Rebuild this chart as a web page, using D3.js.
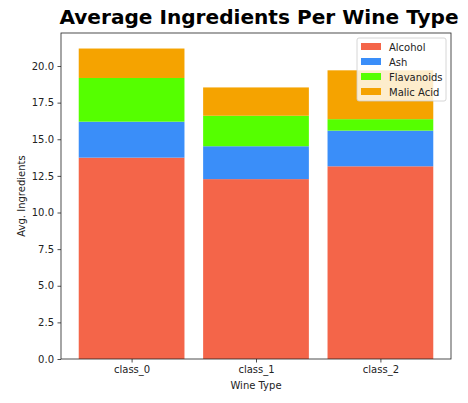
<!DOCTYPE html>
<html><head><meta charset="utf-8">
<script src="https://cdn.jsdelivr.net/npm/d3@7"></script>
<style>body{margin:0;background:#fff}svg{display:block}text{font-family:"DejaVu Sans",sans-serif}</style>
</head><body>
<script>
const categories = ["class_0","class_1","class_2"];
const seriesNames = ["Alcohol","Ash","Flavanoids","Malic Acid"];
const alcohol = [13.745, 12.279, 13.154];
const ash = [2.456, 2.245, 2.437];
const flavanoids = [2.982, 2.081, 0.781];
const malicAcid = [2.011, 1.933, 3.334];
const yTicks = [0,2.5,5,7.5,10,12.5,15,17.5,20];
const colors = ["#F46549","#3A8EF9","#55FF00","#F5A300"];

const W=468,H=403;
const m={l:61,r:17,t:33,b:44};
const svg=d3.select("body").append("svg").attr("width",W).attr("height",H);
const rows = categories.map((c,i)=>({cat:c,"Alcohol":alcohol[i],"Ash":ash[i],"Flavanoids":flavanoids[i],"Malic Acid":malicAcid[i]}));
const stacked = d3.stack().keys(seriesNames)(rows);
const maxV = d3.max(stacked[stacked.length-1], d=>d[1]);
const y=d3.scaleLinear().domain([0,maxV*1.05]).range([H-m.b,m.t]);
const x=d3.scaleLinear().domain([-0.5675,2.5675]).range([m.l,W-m.r]);
const bw=0.85;

stacked.forEach((s,k)=>{
  svg.append("g").selectAll("rect").data(s).enter().append("rect")
    .attr("x",(d,i)=>x(i-bw/2)).attr("width",x(bw)-x(0))
    .attr("y",d=>y(d[1])).attr("height",d=>y(d[0])-y(d[1]))
    .attr("fill",colors[k]);
});

const ya=svg.append("g").attr("transform",`translate(${m.l},0)`)
  .call(d3.axisLeft(y).tickValues(yTicks).tickFormat(d3.format(".1f")).tickSizeOuter(0).tickSize(3.5).tickPadding(3.5));
const xa=svg.append("g").attr("transform",`translate(0,${H-m.b})`)
  .call(d3.axisBottom(x).tickValues([0,1,2]).tickFormat(i=>categories[i]).tickSizeOuter(0).tickSize(3.5).tickPadding(3.5));
[ya,xa].forEach(a=>{a.select(".domain").remove();a.selectAll("text").attr("font-size",10).attr("fill","#222").attr("font-family","DejaVu Sans");a.selectAll("line").attr("stroke","#222").attr("stroke-width",0.8);});

svg.append("rect").attr("x",m.l).attr("y",m.t).attr("width",W-m.r-m.l).attr("height",H-m.b-m.t)
  .attr("fill","none").attr("stroke","#222").attr("stroke-width",0.8);

svg.append("text").attr("x",259).attr("y",24).attr("text-anchor","middle")
  .attr("font-size",20.1).attr("font-weight","bold").attr("fill","#000").text("Average Ingredients Per Wine Type");
svg.append("text").attr("x",(m.l+W-m.r)/2).attr("y",389).attr("text-anchor","middle")
  .attr("font-size",10).attr("fill","#222").text("Wine Type");
svg.append("text").attr("transform",`translate(25,${(m.t+H-m.b)/2}) rotate(-90)`).attr("text-anchor","middle")
  .attr("font-size",10).attr("fill","#222").text("Avg. Ingredients");

const lg=svg.append("g").attr("transform","translate(357,38)");
lg.append("rect").attr("width",89).attr("height",63).attr("rx",2).attr("fill","#fff").attr("fill-opacity",0.8).attr("stroke","#ccc").attr("stroke-width",0.8);
seriesNames.forEach((n,i)=>{
  lg.append("rect").attr("x",4).attr("y",5+i*15).attr("width",20).attr("height",7).attr("fill",colors[i]);
  lg.append("text").attr("x",32).attr("y",12.5+i*15).attr("font-size",10).attr("fill","#222").text(n);
});
</script>
</body></html>
